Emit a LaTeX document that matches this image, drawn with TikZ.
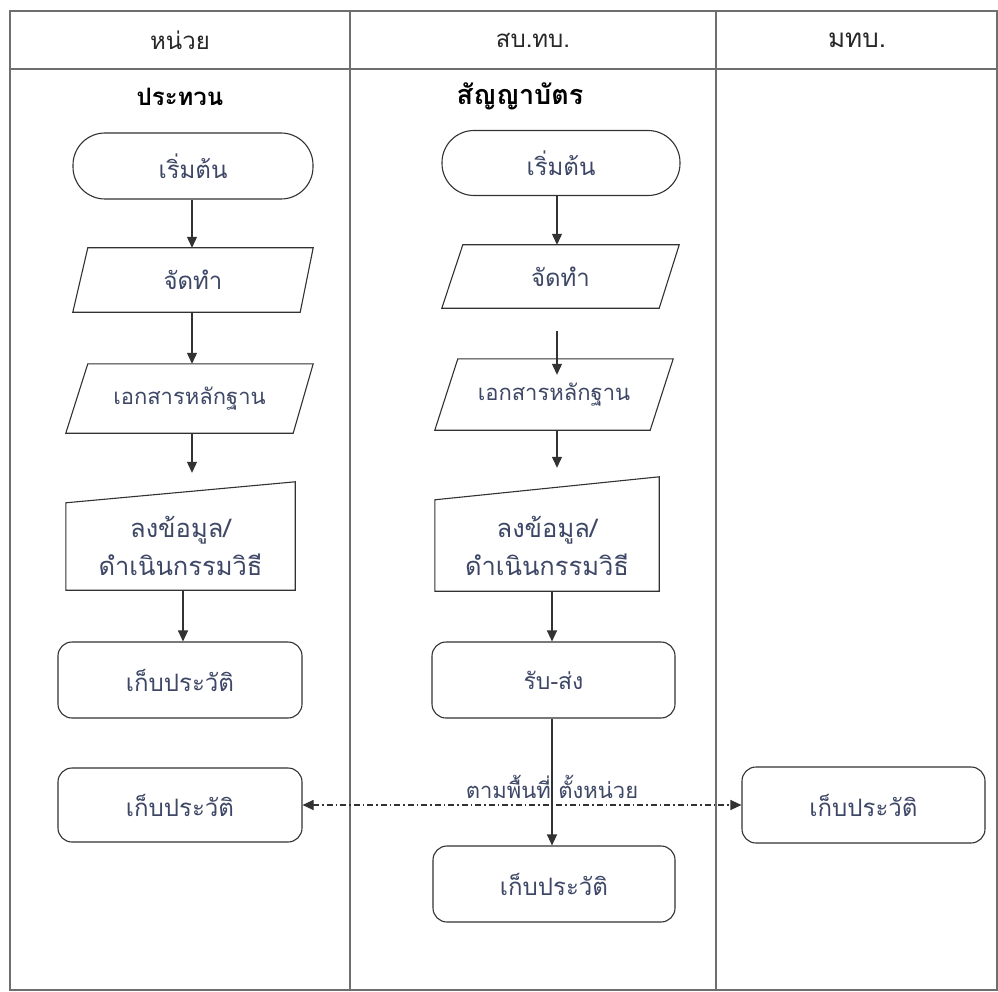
\documentclass[tikz,border=0pt]{standalone}
\usepackage{fontspec}
\newfontfamily\thaifont[Script=Thai]{Loma}
\usetikzlibrary{arrows.meta}
\definecolor{linec}{RGB}{50,50,50}
\definecolor{gridc}{RGB}{110,110,110}
\definecolor{txtc}{RGB}{62,72,102}
\definecolor{headc}{RGB}{40,40,40}
\newcommand{\fsz}[1]{\fontsize{#1}{#1}\selectfont}
\tikzset{
  lane/.style={draw=gridc, line width=1.4pt},
  tx/.style={font=\thaifont\fontsize{24}{36}\selectfont, text=txtc, align=center},
  headtx/.style={font=\thaifont\fontsize{24}{28}\selectfont, text=headc},
  subtx/.style={font=\thaifont\bfseries\fontsize{24}{28}\selectfont, text=black},
  term/.style={tx, draw=linec, line width=1.1pt, rounded corners=32pt, inner sep=0pt},
  proc/.style={tx, draw=linec, line width=1.1pt, rounded corners=14pt, inner sep=0pt},
  box/.style={tx, inner sep=0pt},
  shp/.style={draw=linec, line width=1.1pt, line join=miter},
  arr/.style={draw=linec, line width=1.1pt, -{Triangle[length=11pt,width=10pt]}},
  dd/.style={draw=linec, line width=1.1pt, dash pattern=on 6pt off 3pt on 1.5pt off 3pt,
             {Triangle[length=11pt,width=10pt]}-{Triangle[length=11pt,width=10pt]}}
}
\begin{document}
\begin{tikzpicture}[x=1pt,y=-1pt]
\useasboundingbox (0,0) rectangle (998,992);
\fill[white] (0,0) rectangle (998,992);
% lanes
\draw[lane] (10,11) rectangle (997,990);
\draw[lane] (10,69) -- (997,69);
\draw[lane] (350,11) -- (350,990);
\draw[lane] (716,11) -- (716,990);
% headers
\node[headtx] (h1) at (180,40) {หน่วย};
\node[headtx] (h2) at (533,40) {สบ.ทบ.};
\node[headtx, font=\thaifont\fsz{26}] (h3) at (857,40) {มทบ.};
\node[subtx] (s1) at (180,97) {ประทวน};
\node[subtx, font=\thaifont\bfseries\fsz{27}] (s2) at (520,96) {สัญญาบัตร};

% left column
\node[term, minimum width=240pt, minimum height=66pt] (l1) at (193,166) {เริ่มต้น};
\node[box, minimum width=240pt, minimum height=64pt] (l2) at (193,280) {จัดทำ};
\draw[shp] ([xshift=15pt]l2.north west) -- (l2.north east) -- ([xshift=-13pt]l2.south east) -- (l2.south west) -- cycle;
\node[box, font=\thaifont\fsz{22}, minimum width=247pt, minimum height=69pt] (l3) at (189.5,398.5) {เอกสารหลักฐาน};
\draw[shp] ([xshift=22pt]l3.north west) -- (l3.north east) -- ([xshift=-20pt]l3.south east) -- (l3.south west) -- cycle;
\node[box, minimum width=229pt, minimum height=108pt] (l4) at (180.5,536) {};
\node[tx, font=\thaifont\fontsize{25.5}{38}\selectfont] (l4t) at (180.5,546) {ลงข้อมูล/\\ดำเนินกรรมวิธี};
\draw[shp] (l4.south west) -- ([yshift=-21pt]l4.north west) -- (l4.north east) -- (l4.south east) -- cycle;
\node[proc, minimum width=244pt, minimum height=76pt] (l5) at (180,680) {เก็บประวัติ};
\node[proc, minimum width=244pt, minimum height=74pt] (l6) at (180,805) {เก็บประวัติ};

\draw[arr] (l1.south -| 192,0) -- (l2.north -| 192,0);
\draw[arr] (l2.south -| 192,0) -- (l3.north -| 192,0);
\draw[arr, shorten >=9pt] (l3.south -| 192,0) -- (l4.north -| 192,0);
\draw[arr] (l4.south -| 183,0) -- (l5.north -| 183,0);

% middle column
\node[term, minimum width=238pt, minimum height=65pt] (m1) at (561,163) {เริ่มต้น};
\node[box, minimum width=237pt, minimum height=63pt] (m2) at (560.5,276.5) {จัดทำ};
\draw[shp] ([xshift=21pt]m2.north west) -- (m2.north east) -- ([xshift=-20pt]m2.south east) -- (m2.south west) -- cycle;
\node[box, font=\thaifont\fsz{22}, minimum width=238pt, minimum height=71pt] (m3) at (554,394.5) {เอกสารหลักฐาน};
\draw[shp] ([xshift=23pt]m3.north west) -- (m3.north east) -- ([xshift=-23pt]m3.south east) -- (m3.south west) -- cycle;
\node[box, minimum width=224pt, minimum height=114pt] (m4) at (547,534) {};
\node[tx, font=\thaifont\fontsize{25.5}{38}\selectfont] (m4t) at (547,546) {ลงข้อมูล/\\ดำเนินกรรมวิธี};
\draw[shp] (m4.south west) -- ([yshift=-23pt]m4.north west) -- (m4.north east) -- (m4.south east) -- cycle;
\node[proc, font=\thaifont\fsz{23}, minimum width=243pt, minimum height=76pt] (m5) at (553.5,680) {รับ-ส่ง};
\node[proc, minimum width=242pt, minimum height=76pt] (m6) at (554,884) {เก็บประวัติ};

\draw[arr] (m1.south -| 557,0) -- (m2.north -| 557,0);
\draw[arr, shorten <=23pt, shorten >=-16pt] (m2.south -| 557,0) -- (m3.north -| 557,0);
\draw[arr, shorten >=9pt] (m3.south -| 557,0) -- (m4.north -| 557,0);
\draw[arr] (m4.south -| 552,0) -- (m5.north -| 552,0);
\draw[arr] (m5.south -| 552,0) -- (m6.north -| 552,0);

% right column
\node[proc, minimum width=243pt, minimum height=76pt] (r1) at (863.5,805) {เก็บประวัติ};

% dash-dot distribution
\draw[dd] (l6.east) -- (r1.west);
\node[tx, font=\thaifont\fsz{22}] (lab) at (552,787) {ตามพื้นที่ ตั้งหน่วย};
\end{tikzpicture}
\end{document}
